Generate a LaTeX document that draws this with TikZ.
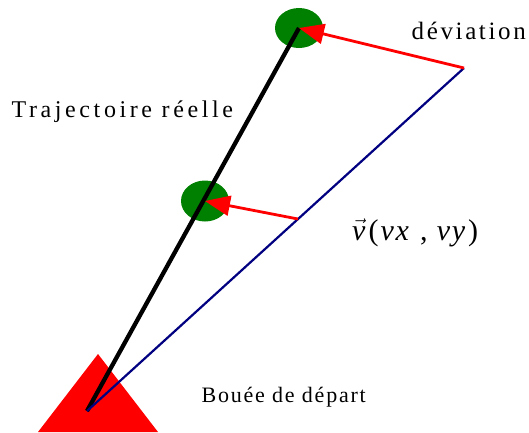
\documentclass[tikz,border=0pt]{standalone}
\usepackage{fontspec}
\setmainfont{Liberation Serif}
\usetikzlibrary{arrows.meta,shapes.geometric}
\definecolor{navyb}{RGB}{0,0,128}
\definecolor{gr}{RGB}{0,128,0}
\begin{document}
\begin{tikzpicture}[x=1pt,y=-1pt,
 lbl/.style={inner sep=0pt, anchor=base west},
 buoy/.style={ellipse, fill=gr, inner sep=0pt, minimum width=48pt, minimum height=40pt},
 dev/.style={red, line width=2.8pt, -{Triangle[length=25pt,width=20pt]}},
 traj/.style={black, line width=4.3pt},
 vel/.style={navyb, line width=2.2pt}]
\useasboundingbox (0,0) rectangle (529,432);
\fill[red] (98,354) -- (158,432) -- (38,432) -- cycle;
\coordinate (S) at (87,411);
\coordinate (E) at (464,68);
\coordinate (M) at (298,219);
\node[buoy] (g1) at (299,28) {};
\node[buoy, minimum height=41pt] (g2) at (205,201) {};
\draw[traj] (S) -- (g1.center);
\draw[vel] (S) -- (E);
\draw[dev] (E) -- (g1.center);
\draw[dev] (M) -- (g2.center);
\node[lbl] (dv) at (411.5,39.3) {\fontsize{25}{28}\selectfont\addfontfeature{LetterSpace=10.5}déviation};
\node[lbl] (tr) at (11.5,117.7) {\fontsize{24}{27}\selectfont\addfontfeature{LetterSpace=15}Trajectoire réelle};
\node[lbl] (bd) at (201.5,402) {\fontsize{22}{25}\selectfont\addfontfeature{LetterSpace=8}Bouée de départ};
\node[lbl] (vv) at (352,240) {\fontsize{30}{34}\selectfont $\vec{\textit{v}}$\hspace{3pt}\addfontfeature{LetterSpace=6}(\hspace{2pt}\textit{vx} , \textit{vy}\hspace{1pt})};
\end{tikzpicture}
\end{document}
